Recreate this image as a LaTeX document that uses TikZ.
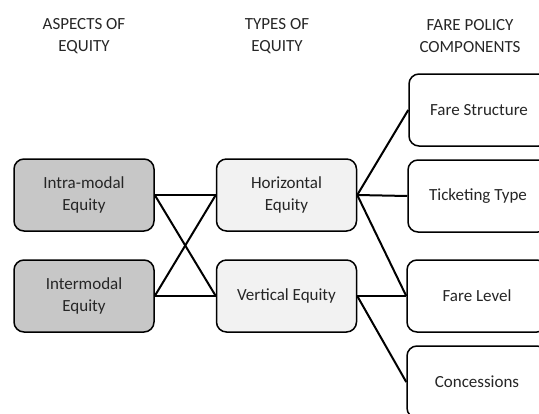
\documentclass[tikz,border=0pt]{standalone}
\usepackage{fontspec}
\setmainfont{Carlito}
\usetikzlibrary{positioning}

\begin{document}
\begin{tikzpicture}[x=1pt, y=-1pt,
  box/.style={draw=black, line width=1.5pt, rounded corners=10pt, minimum width=140pt, minimum height=72pt, align=center, text=black!85, font=\fontsize{17}{22}\selectfont},
  aspect/.style={box, fill=black!22},
  eqtype/.style={box, fill=black!5},
  fare/.style={box, fill=white},
  head/.style={align=center, text=black!85, font=\fontsize{17}{22}\selectfont},
  link/.style={line width=2pt}]

\useasboundingbox (0,0) rectangle (539,413);
\clip (0,0) rectangle (539,413);

% column headings
\node[head] (h1) at (84,36) {ASPECTS OF\\EQUITY};
\node[head] (h2) at (277,36) {TYPES OF\\EQUITY};
\node[head] (h3) at (470,36) {FARE POLICY\\COMPONENTS};

\node[aspect] (intra) at (84,195) {Intra-modal\\Equity};
\node[aspect] (inter) at (84,296) {Intermodal\\Equity};

\node[eqtype] (hor) at (286.5,195) {Horizontal\\Equity};
\node[eqtype] (vert) at (286.5,296) {Vertical Equity};

\node[fare] (fs) at (479,110) {Fare Structure};
\node[fare] (tt) at (478,196) {Ticketing Type};
\node[fare] (fl) at (477,296) {Fare Level};
\node[fare] (con) at (477,382) {Concessions};

\draw[link] (intra.east) -- (hor.west);
\draw[link] (intra.east) -- (vert.west);
\draw[link] (inter.east) -- (hor.west);
\draw[link] (inter.east) -- (vert.west);
\draw[link] (hor.east) -- (fs.west);
\draw[link] (hor.east) -- (tt.west);
\draw[link] (hor.east) -- (fl.west);
\draw[link] (vert.east) -- (fl.west);
\draw[link] (vert.east) -- (con.west);
\end{tikzpicture}
\end{document}
